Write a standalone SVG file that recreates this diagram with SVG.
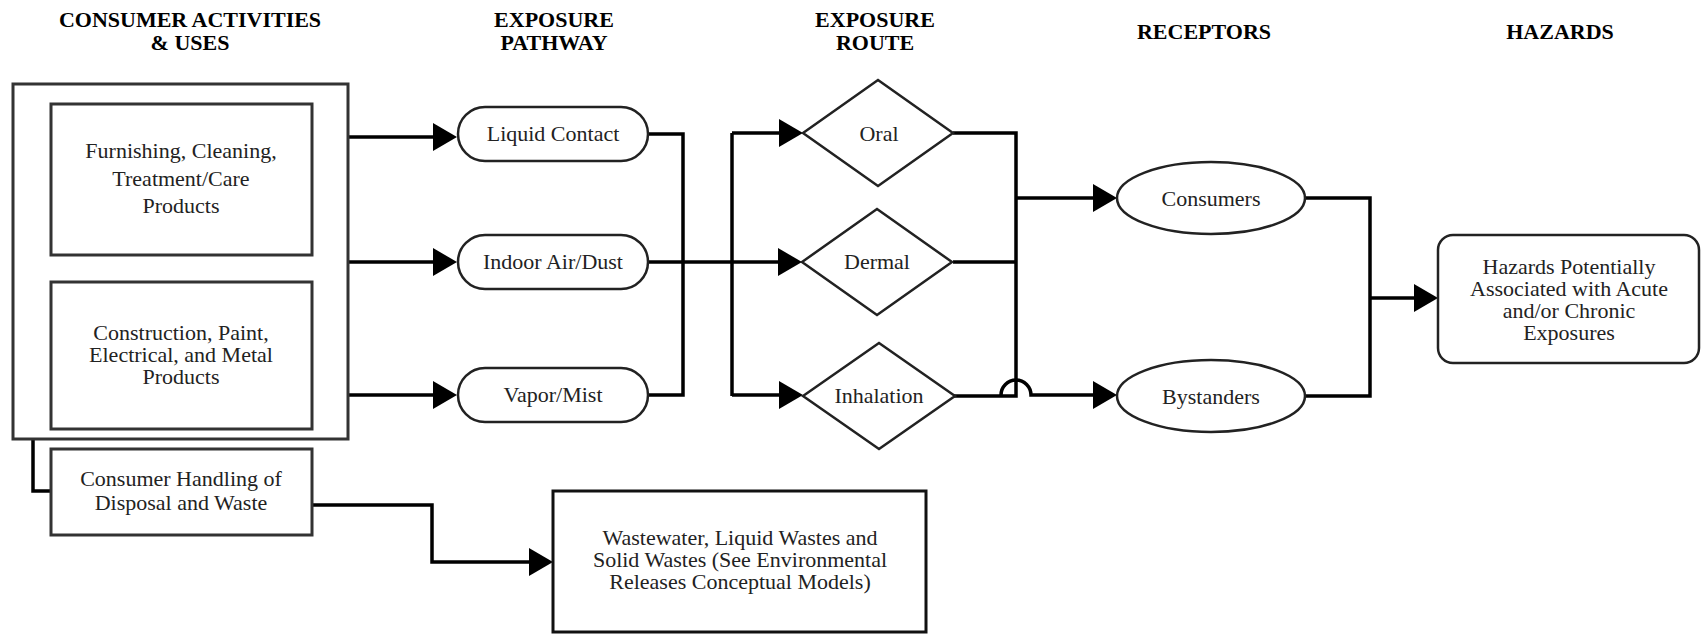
<svg xmlns="http://www.w3.org/2000/svg" width="1702" height="637" viewBox="0 0 1702 637">
<defs>
<style>
.hdr{font-family:"Liberation Serif","Times New Roman",serif;font-size:22px;font-weight:bold;fill:#000;text-anchor:middle}
.lbl{font-family:"Liberation Serif","Times New Roman",serif;font-size:22px;fill:#222;text-anchor:middle}
.box{fill:#fff;stroke:#333;stroke-width:3}
.shape{fill:#fff;stroke:#222;stroke-width:2.5}
.edge{fill:none;stroke:#000;stroke-width:3.5}
.arr{marker-end:url(#ah)}
</style>
<marker id="ah" viewBox="0 0 24 28" refX="0" refY="14" markerWidth="24" markerHeight="28" markerUnits="userSpaceOnUse" orient="auto">
<path d="M0,0 L24,14 L0,28 z" fill="#000"/>
</marker>
</defs>
<rect width="1702" height="637" fill="#fff"/>

<g id="headers">
<text class="hdr" x="190" y="27">CONSUMER ACTIVITIES</text>
<text class="hdr" x="190" y="50">&amp; USES</text>
<text class="hdr" x="554" y="27">EXPOSURE</text>
<text class="hdr" x="554" y="50">PATHWAY</text>
<text class="hdr" x="875" y="27">EXPOSURE</text>
<text class="hdr" x="875" y="50">ROUTE</text>
<text class="hdr" x="1204" y="39">RECEPTORS</text>
<text class="hdr" x="1560" y="39">HAZARDS</text>
</g>

<g id="connectors">
<path class="edge arr" d="M348,137 H433"/>
<path class="edge arr" d="M348,262 H433"/>
<path class="edge arr" d="M348,395 H433"/>
<path class="edge" d="M648,134 H683 V395 H648"/>
<path class="edge arr" d="M648,262 H778"/>
<path class="edge" d="M732,133 V396"/>
<path class="edge arr" d="M732,133 H779"/>
<path class="edge arr" d="M732,395 H779"/>
<path class="edge" d="M953,133 H1016 V396 H953"/>
<path class="edge" d="M953,262 H1016"/>
<path class="edge arr" d="M1016,198 H1093"/>
<path class="edge arr" d="M1001,395 A15,15 0 0 1 1031,395 H1093"/>
<path class="edge" d="M1305,198 H1370 V396 H1305"/>
<path class="edge arr" d="M1370,298 H1414"/>
<path class="edge" d="M33,439 V491 H51"/>
<path class="edge arr" d="M311,505 H432 V562 H529"/>
</g>

<g id="consumer-activities">
<rect class="box" x="13" y="84" width="335" height="355"/>
</g>
<g id="furnishing">
<rect class="box" x="51" y="104" width="261" height="151"/>
<text class="lbl" x="181" y="158">Furnishing, Cleaning,</text>
<text class="lbl" x="181" y="185.5">Treatment/Care</text>
<text class="lbl" x="181" y="213">Products</text>
</g>
<g id="construction">
<rect class="box" x="51" y="282" width="261" height="147"/>
<text class="lbl" x="181" y="340">Construction, Paint,</text>
<text class="lbl" x="181" y="362">Electrical, and Metal</text>
<text class="lbl" x="181" y="384">Products</text>
</g>
<g id="disposal">
<rect class="box" x="51" y="449" width="261" height="86"/>
<text class="lbl" x="181" y="486">Consumer Handling of</text>
<text class="lbl" x="181" y="510">Disposal and Waste</text>
</g>
<g id="waste">
<rect class="box" x="553" y="491" width="373" height="141" style="stroke:#111"/>
<text class="lbl" x="740" y="545">Wastewater, Liquid Wastes and</text>
<text class="lbl" x="740" y="567">Solid Wastes (See Environmental</text>
<text class="lbl" x="740" y="589">Releases Conceptual Models)</text>
</g>

<g id="liquid-contact">
<rect class="shape" x="458" y="107" width="190" height="54" rx="27"/>
<text class="lbl" x="553" y="141">Liquid Contact</text>
</g>
<g id="indoor-air">
<rect class="shape" x="458" y="235" width="190" height="54" rx="27"/>
<text class="lbl" x="553" y="269">Indoor Air/Dust</text>
</g>
<g id="vapor-mist">
<rect class="shape" x="458" y="368" width="190" height="54" rx="27"/>
<text class="lbl" x="553" y="402">Vapor/Mist</text>
</g>

<g id="oral">
<polygon class="shape" points="803,133 878,80 953,133 878,186"/>
<text class="lbl" x="879" y="141">Oral</text>
</g>
<g id="dermal">
<polygon class="shape" points="802,262 877,209 952,262 877,315"/>
<text class="lbl" x="877" y="269">Dermal</text>
</g>
<g id="inhalation">
<polygon class="shape" points="803,396 879,343 955,396 879,449"/>
<text class="lbl" x="879" y="403">Inhalation</text>
</g>

<g id="consumers">
<ellipse class="shape" cx="1211" cy="198" rx="94" ry="36"/>
<text class="lbl" x="1211" y="206">Consumers</text>
</g>
<g id="bystanders">
<ellipse class="shape" cx="1211" cy="396" rx="94" ry="36"/>
<text class="lbl" x="1211" y="404">Bystanders</text>
</g>

<g id="hazards">
<rect class="shape" x="1438" y="235" width="261" height="128" rx="15"/>
<text class="lbl" x="1569" y="274">Hazards Potentially</text>
<text class="lbl" x="1569" y="296">Associated with Acute</text>
<text class="lbl" x="1569" y="318">and/or Chronic</text>
<text class="lbl" x="1569" y="340">Exposures</text>
</g>
</svg>
